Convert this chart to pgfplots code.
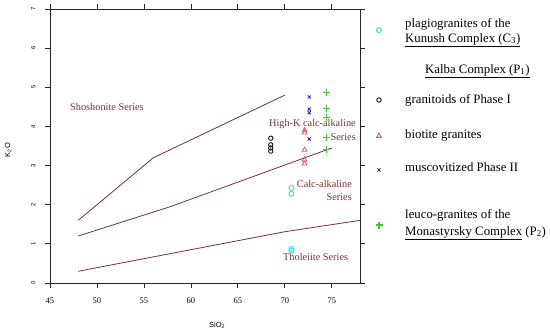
\documentclass[border=0pt]{standalone}
\usepackage{fontspec}
\setmainfont{Liberation Serif}
\setsansfont{Liberation Sans}
\usepackage{pgfplots}
\pgfplotsset{compat=1.18}
\definecolor{maroon}{HTML}{7A2E35}
\definecolor{rcyan}{HTML}{28E2E5}
\definecolor{rred}{HTML}{DF536B}
\definecolor{rgreen}{HTML}{3FC82A}
\definecolor{rblue}{HTML}{2B2BB8}
\begin{document}
\begin{tikzpicture}
\useasboundingbox (-50pt,-52pt) rectangle (500pt,283pt);
\begin{axis}[
  at={(0pt,0pt)}, anchor=south west,
  width=310pt, height=274pt, scale only axis,
  xmin=45, xmax=78, ymin=0, ymax=7,
  xtick={45,50,...,75}, ytick={0,1,...,7},
  tick align=outside, major tick length=5pt,
  axis line style={line width=0.8pt, black!85},
  every tick/.style={line width=0.8pt, black!85},
  xticklabel style={font=\fontsize{8.5}{9}\selectfont, yshift=-6pt},
  yticklabel style={font=\sffamily\fontsize{6}{7}\selectfont, rotate=90, anchor=south, yshift=6pt},
  /pgf/number format/assume math mode=true,
  xlabel={SiO\textsubscript{2}}, ylabel={K\textsubscript{2}O},
  xlabel style={font=\sffamily\fontsize{7.5}{9}\selectfont, at={(rel axis cs:0.539,-0.153)}, anchor=center},
  ylabel style={font=\sffamily\fontsize{7.5}{9}\selectfont, at={(rel axis cs:-0.135,0.485)}, anchor=center},
  clip=false,
  every axis plot/.append style={line width=0.8pt},
]
% boundary lines
\addplot[maroon, no marks] coordinates {(48,1.6) (56,3.2) (70,4.8)};
\addplot[maroon, no marks] coordinates {(48,1.2) (57.8,1.95) (75,3.45)};
\addplot[maroon, no marks] coordinates {(48,0.3) (70,1.31) (78,1.6)};
% data
\addplot[only marks, mark=o, mark size=2.5pt, rcyan, line width=0.9pt] coordinates {(70.7,2.43) (70.7,2.28) (70.7,0.87) (70.7,0.82)};
\addplot[only marks, mark=o, mark size=2.2pt, black, line width=0.8pt] coordinates {(68.5,3.70) (68.5,3.53) (68.5,3.45) (68.5,3.37)};
\addplot[only marks, mark=triangle, mark size=2.8pt, rred, line width=0.8pt] coordinates {(72.1,3.90) (72.1,3.84) (72.1,3.40) (72.1,3.15) (72.1,3.05)};
\addplot[only marks, mark=x, mark size=2.2pt, rblue, line width=0.8pt] coordinates {(72.6,4.75) (72.6,4.44) (72.6,4.35) (72.6,3.68)};
\addplot[only marks, mark=+, mark size=3.5pt, rgreen, line width=1pt] coordinates {(74.4,4.87) (74.4,4.45) (74.4,4.24) (74.4,3.73) (74.4,3.42)};
% series labels
\begin{scope}[every node/.style={font=\fontsize{10.3}{12}\selectfont, text=maroon, inner sep=0pt}]
\node[anchor=west] at (axis cs:47.13,4.50) {Shoshonite Series};
\node[anchor=east] at (axis cs:77.57,4.06) {High-K calc-alkaline};
\node[anchor=east] at (axis cs:77.57,3.73) {Series};
\node[anchor=east] at (axis cs:77.15,2.53) {Calc-alkaline};
\node[anchor=east] at (axis cs:77.15,2.20) {Series};
\node[anchor=west] at (axis cs:69.80,0.66) {Tholeiite Series};
\end{scope}
\end{axis}
% legend overlay in pixel coordinates
\begin{axis}[
  at={(-50pt,-52pt)}, anchor=south west,
  width=550pt, height=335pt, scale only axis,
  xmin=0, xmax=550, ymin=0, ymax=335, y dir=reverse,
  hide axis, clip=false,
]
\addplot[only marks, mark=o, mark size=2.5pt, rcyan, line width=0.9pt] coordinates {(379,30)};
\addplot[only marks, mark=o, mark size=2.2pt, black, line width=0.9pt] coordinates {(379,100)};
\addplot[only marks, mark=triangle, mark size=2.8pt, rred, line width=0.9pt] coordinates {(379,136)};
\addplot[only marks, mark=x, mark size=2.2pt, rblue, line width=0.9pt] coordinates {(379,170)};
\addplot[only marks, mark=+, mark size=3.5pt, draw=rgreen, mark options={draw=rgreen, line width=1.2pt}] coordinates {(379,225)};
\begin{scope}[every node/.style={font=\fontsize{12.8}{15}\selectfont, inner sep=0pt, anchor=west}]
\node at (axis cs:405,24) {plagiogranites of the};
\node at (axis cs:405,40) {\underline{Kunush Complex (C\textsubscript{3})}};
\node at (axis cs:425,71) {\underline{Kalba Complex (P\textsubscript{1})}};
\node at (axis cs:405,100) {granitoids of Phase I};
\node at (axis cs:405,135) {biotite granites};
\node at (axis cs:405,167) {muscovitized Phase II};
\node at (axis cs:405,215) {leuco-granites of the};
\node at (axis cs:405,233) {\underline{Monastyrsky Complex} (P\textsubscript{2})};
\end{scope}
\end{axis}
\end{tikzpicture}
\end{document}
